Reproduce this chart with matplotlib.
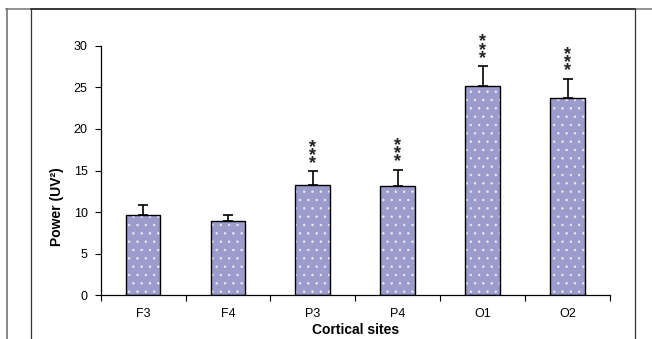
import matplotlib.pyplot as plt
from matplotlib.lines import Line2D

sites = ['F3', 'F4', 'P3', 'P4', 'O1', 'O2']
power = [9.7, 8.9, 13.2, 13.1, 25.2, 23.7]
sem = [1.1, 0.7, 1.7, 2.0, 2.35, 2.35]
marks = ['', '', '***', '***', '***', '***']

plt.rcParams['font.family'] = ['Liberation Sans', 'DejaVu Sans']
plt.rcParams['hatch.linewidth'] = 0.5

fig = plt.figure(figsize=(6.52, 3.39), dpi=100)
ax = fig.add_axes([0.1543, 0.1289, 0.7813, 0.7363])

x = list(range(len(sites)))
# fill with light dots, then black outline on top
ax.bar(x, power, width=0.41, color='#9c9ccc', edgecolor='#ececf8', linewidth=0,
       hatch='..', zorder=2)
ax.bar(x, power, width=0.41, fill=False, edgecolor='black', linewidth=1.0, zorder=3)
ax.errorbar(x, power, yerr=[[0] * len(sem), sem], fmt='none', ecolor='black',
            elinewidth=1.2, capsize=3.5, capthick=1.2, zorder=1)

for xi, p, s, m in zip(x, power, sem, marks):
    if m:
        ax.text(xi, p + s - 0.1, '\n'.join(m), ha='center', va='bottom',
                fontsize=13, fontweight='bold', linespacing=0.32, color='#222222')

ax.set_xlim(-0.5, len(sites) - 0.5)
ax.set_ylim(0, 30)
ax.set_yticks(range(0, 31, 5))
ax.set_xticks(x)
ax.set_xticklabels(sites)
ax.set_xticks([i - 0.5 for i in range(len(sites) + 1)], minor=True)
ax.tick_params(axis='x', which='major', length=0, pad=9, labelsize=9)
ax.tick_params(axis='x', which='minor', length=4, width=0.8, direction='out')
ax.tick_params(axis='y', length=4.3, width=0.8, labelsize=9, pad=5)

for side in ['top', 'right']:
    ax.spines[side].set_visible(False)
for side in ['left', 'bottom']:
    ax.spines[side].set_linewidth(0.9)

ax.set_xlabel('Cortical sites', fontsize=10, fontweight='bold', labelpad=2)
ax.text(-0.086, 0.356, 'Power (UV²)', transform=ax.transAxes, rotation=90,
        ha='center', va='center', fontsize=10, fontweight='bold')

# page frame around the chart
fig.add_artist(Line2D([0.0103, 0.0103], [0, 0.972], color='#888888', lw=1.4))
fig.add_artist(Line2D([0.0468, 0.0468], [0, 0.972], color='#333333', lw=0.9))
fig.add_artist(Line2D([0.9735, 0.9735], [0, 0.972], color='#333333', lw=0.9))
fig.add_artist(Line2D([0.0095, 1.0], [0.972, 0.972], color='#777777', lw=1.1))
fig.add_artist(Line2D([0.0468, 0.9735], [0.972, 0.972], color='#222222', lw=1.1))

fig.savefig('out.png', dpi=100)
